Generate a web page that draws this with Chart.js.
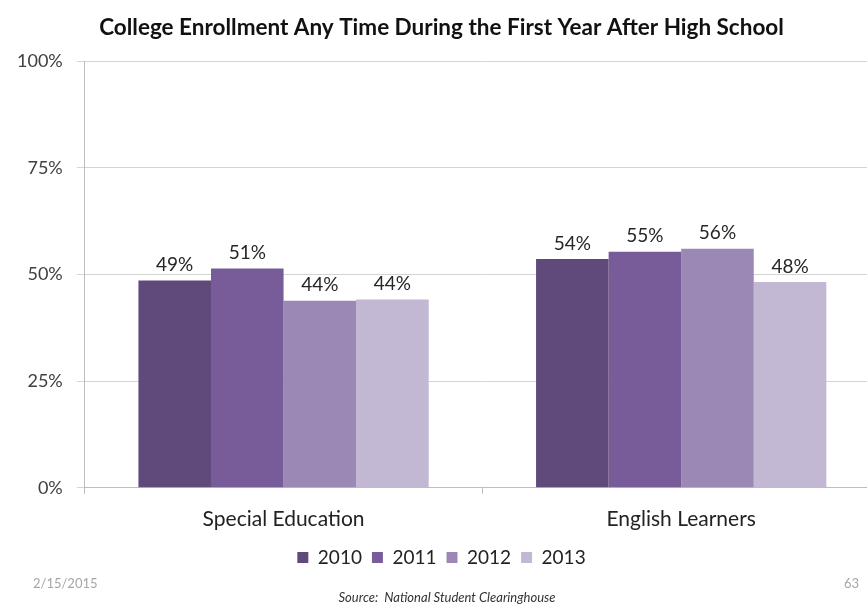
<!DOCTYPE html>
<html lang="en">
<head>
    <meta charset="UTF-8">
    <title>College Enrollment</title>
    <script src="https://cdn.jsdelivr.net/npm/chart.js"></script>
    <style>
        body {
            margin: 0;
            padding: 0;
            background: white;
            overflow: hidden;
            font-family: 'Lato', sans-serif;
        }
        .wrap {
            position: relative;
            width: 880px;
            height: 605px;
        }
        .date {
            position: absolute;
            left: 33px;
            top: 575px;
            font-size: 13px;
            color: #a6a6a6;
        }
        .page {
            position: absolute;
            left: 844px;
            top: 575px;
            font-size: 13px;
            color: #a6a6a6;
        }
        .source {
            position: absolute;
            left: 7px;
            width: 880px;
            top: 589px;
            text-align: center;
            font-size: 13px;
            font-style: italic;
            color: #333;
        }
    </style>
</head>
<body>
    <div class="wrap">
        <canvas id="enrollChart" width="880" height="605"></canvas>
        <div class="date">2/15/2015</div>
        <div class="page">63</div>
        <div class="source">Source:&nbsp; National Student Clearinghouse</div>
    </div>

    <script>
        const categories = ['Special Education', 'English Learners'];
        const years = ['2010', '2011', '2012', '2013'];
        const values2010 = [48.6, 53.6];
        const values2011 = [51.4, 55.3];
        const values2012 = [43.8, 56.0];
        const values2013 = [44.1, 48.2];
        const yTicks = [0, 25, 50, 75, 100];
        const colors = ['#604a7b', '#775c99', '#9b88b5', '#c3b8d4'];

        const seriesValues = [values2010, values2011, values2012, values2013];

        // writes the rounded value above each bar
        const barLabels = {
            id: 'barLabels',
            afterDatasetsDraw(chart) {
                const ctx = chart.ctx;
                ctx.save();
                ctx.font = '19px Lato, sans-serif';
                ctx.fillStyle = '#262626';
                ctx.textAlign = 'center';
                ctx.textBaseline = 'bottom';
                chart.data.datasets.forEach((ds, i) => {
                    chart.getDatasetMeta(i).data.forEach((bar, j) => {
                        ctx.fillText(Math.round(ds.data[j]) + '%', bar.x, bar.y - 6);
                    });
                });
                ctx.restore();
            }
        };

        // pull the legend a little closer to the axis labels
        const legendNudge = {
            id: 'legendNudge',
            afterLayout(chart) {
                chart.legend.top -= 7;
                chart.legend.bottom -= 7;
            }
        };

        const ctx = document.getElementById('enrollChart').getContext('2d');
        new Chart(ctx, {
            type: 'bar',
            data: {
                labels: categories,
                datasets: years.map((y, i) => ({
                    label: y,
                    data: seriesValues[i],
                    backgroundColor: colors[i],
                    barPercentage: 1.0,
                    categoryPercentage: 0.73
                }))
            },
            options: {
                responsive: false,
                animation: false,
                layout: { padding: { top: 0, bottom: 21, left: 3, right: 0 } },
                plugins: {
                    title: {
                        display: true,
                        text: 'College Enrollment Any Time During the First Year After High School',
                        font: { family: 'Lato', size: 22.5, weight: 'bold' },
                        color: '#111',
                        padding: { top: 14, bottom: 20 }
                    },
                    legend: {
                        position: 'bottom',
                        labels: {
                            boxWidth: 11,
                            boxHeight: 11,
                            padding: 10,
                            font: { family: 'Lato', size: 19 },
                            color: '#222'
                        }
                    },
                    tooltip: { enabled: false }
                },
                scales: {
                    x: {
                        grid: { drawOnChartArea: false, offset: true, tickLength: 6, color: '#bdbdbd' },
                        border: { color: '#bdbdbd' },
                        ticks: { font: { family: 'Lato', size: 21 }, color: '#222', padding: 13 }
                    },
                    y: {
                        min: 0,
                        max: 100,
                        afterBuildTicks(axis) {
                            axis.ticks = yTicks.map(v => ({ value: v }));
                        },
                        grid: { color: '#d4d4d4', tickLength: 8 },
                        border: { color: '#bdbdbd' },
                        ticks: {
                            font: { family: 'Lato', size: 18 },
                            color: '#404040',
                            padding: 14,
                            callback: v => v + '%'
                        }
                    }
                }
            },
            plugins: [barLabels, legendNudge]
        });
    </script>
</body>
</html>
